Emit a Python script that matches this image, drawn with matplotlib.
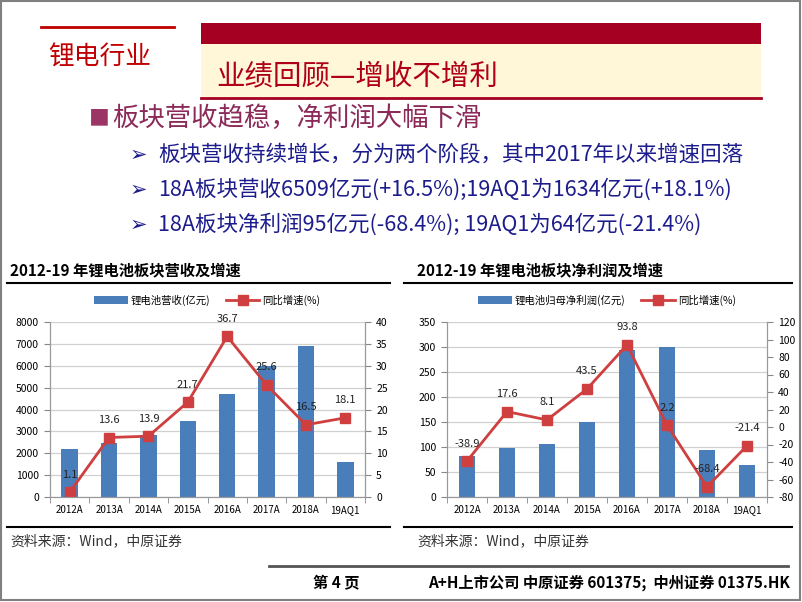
import numpy as np
import matplotlib
matplotlib.use("Agg")
import matplotlib.pyplot as plt
from matplotlib.patches import Rectangle
from matplotlib.lines import Line2D

plt.rcParams['font.family'] = ['Noto Sans CJK SC', 'DejaVu Sans']
plt.rcParams['axes.unicode_minus'] = False

# 数据
cats = ['2012A', '2013A', '2014A', '2015A', '2016A', '2017A', '2018A', '19AQ1']
rev = [2180, 2485, 2820, 3460, 4725, 5975, 6900, 1600]
rev_g = [1.1, 13.6, 13.9, 21.7, 36.7, 25.6, 16.5, 18.1]
np_ = [83, 99, 106, 151, 294, 300, 94, 64]
np_g = [-38.9, 17.6, 8.1, 43.5, 93.8, 2.2, -68.4, -21.4]

bullets = ['板块营收持续增长，分为两个阶段，其中2017年以来增速回落',
           '18A板块营收6509亿元(+16.5%);19AQ1为1634亿元(+18.1%)',
           '18A板块净利润95亿元(-68.4%); 19AQ1为64亿元(-21.4%)']

W, H = 802, 602
BAR = '#4A7EBB'
LINE = '#CF3F3F'
DARKRED = '#A50021'
BLUE = '#1C1C8C'

fig = plt.figure(figsize=(W / 100, H / 100), dpi=100)


def fx(x):
    return x / W


def fy(y):
    return 1 - y / H


def rect(l, t, r, b):
    return [l / W, 1 - b / H, (r - l) / W, (b - t) / H]


def hline(x1, x2, y, c='black', lw=1.0):
    fig.add_artist(Line2D([fx(x1), fx(x2)], [fy(y), fy(y)], color=c, lw=lw,
                          transform=fig.transFigure))


def box(l, t, r, b, fc, ec='none', lw=0):
    fig.add_artist(Rectangle((fx(l), fy(b)), (r - l) / W, (b - t) / H, fc=fc, ec=ec,
                             lw=lw, transform=fig.transFigure))


# 页面框
box(1, 1, 800, 600, 'none', ec='#808080', lw=1.5)

# 页眉
hline(41, 174, 27, c='#C00000', lw=2)
fig.text(fx(48), fy(58), '锂电行业', fontsize=18.5, color='#C00000', va='center')
box(201, 23, 761, 44, DARKRED)
box(201, 44, 761, 97, '#FFF7D8')
hline(201, 761, 98, c=DARKRED, lw=2)
fig.text(fx(216), fy(76), '业绩回顾—增收不增利', fontsize=20.5, weight='medium',
         color='#B00018', va='center')

fig.text(fx(89), fy(118), '■', fontsize=15, color='#9B3565', va='center')
fig.text(fx(112), fy(118), '板块营收趋稳，净利润大幅下滑', fontsize=19, color='#8B2A58', va='center')

for i, b in enumerate(bullets):
    y = 155 + i * 35
    fig.text(fx(130), fy(y), '➢', fontsize=15, color=BLUE, va='center',
             family=['DejaVu Sans'])
    fig.text(fx(158), fy(y), b, fontsize=15.5, weight='medium', color=BLUE, va='center')


def chart(left, right, title, tx, bars, growth, barlab, ylim, yticks, y2lim, y2ticks):
    fig.text(fx(tx), fy(270), title, fontsize=11, weight='bold', va='center')
    hline(left - 43, right + 25, 283, lw=1.5)
    hline(left - 43, right + 25, 527, lw=1.5)

    ax = fig.add_axes(rect(left, 322, right, 497))
    x = np.arange(len(cats))
    ax.bar(x, bars, width=0.42, color=BAR, zorder=2, label=barlab)
    ax.set_xlim(-0.5, len(cats) - 0.5)
    ax.set_ylim(*ylim)
    ax.set_yticks(yticks)
    ax.set_xticks(x)
    ax.set_xticklabels(cats)
    ax.set_xticks(np.arange(-0.5, len(cats), 1), minor=True)
    ax.tick_params(axis='x', which='major', length=0, labelsize=7, pad=6)
    ax.tick_params(axis='x', which='minor', length=4, color='#888888')
    ax.tick_params(axis='y', length=4, color='#888888', labelsize=7.5, pad=4)
    ax.grid(axis='y', color='#D0D0D0', lw=0.9, zorder=0)
    for s in ['left', 'right', 'bottom']:
        ax.spines[s].set_color('#999999')
    ax.spines['top'].set_visible(False)

    ax2 = ax.twinx()
    ax2.plot(x, growth, color=LINE, lw=2, marker='s', markersize=6.5, label='同比增速(%)')
    ax2.set_ylim(*y2lim)
    ax2.set_yticks(y2ticks)
    ax2.tick_params(axis='y', length=4, color='#888888', labelsize=7.5, pad=4)
    for s in ['left', 'right', 'bottom']:
        ax2.spines[s].set_color('#999999')
    ax2.spines['top'].set_visible(False)
    for i, v in enumerate(growth):
        ax2.annotate(f'{v}', (i, v), xytext=(0, 9), textcoords='offset points',
                     ha='center', va='bottom', fontsize=8, color='#222222')

    h1, l1 = ax.get_legend_handles_labels()
    h2, l2 = ax2.get_legend_handles_labels()
    ax.legend(h1 + h2, l1 + l2, loc='lower center', bbox_to_anchor=(0.5, 1.04), ncol=2,
              frameon=False, fontsize=7.5, handlelength=3.2, columnspacing=1.5,
              handletextpad=0.3)
    fig.text(fx(tx), fy(541), '资料来源：Wind，中原证券', fontsize=10, color='#333333', va='center')


chart(50, 365, '2012-19 年锂电池板块营收及增速', 10, rev, rev_g, '锂电池营收(亿元)',
      (0, 8000), range(0, 8001, 1000), (0, 40), range(0, 41, 5))
chart(447, 767, '2012-19 年锂电池板块净利润及增速', 417, np_, np_g, '锂电池归母净利润(亿元)',
      (0, 350), range(0, 351, 50), (-80, 120), range(-80, 121, 20))

# 页脚
hline(269, 788, 566, c='#555555', lw=2)
fig.text(fx(313), fy(583), '第 4 页', fontsize=11, weight='bold', va='center')
fig.text(fx(790), fy(583), 'A+H上市公司 中原证券 601375;  中州证券 01375.HK', fontsize=11,
         weight='bold', va='center', ha='right')

fig.savefig('out.png', dpi=100)
